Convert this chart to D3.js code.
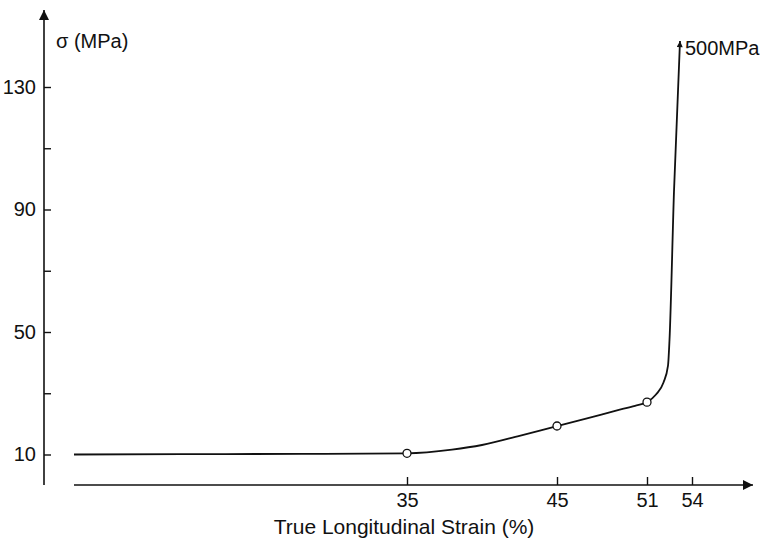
<!DOCTYPE html>
<html>
<head>
<meta charset="utf-8">
<script src="https://cdn.jsdelivr.net/npm/d3@7"></script>
<style>
  body { margin: 0; background: #fff; }
  text { font-family: "Liberation Sans", Arial, sans-serif; fill: #111; }
</style>
</head>
<body>
<div id="chart"></div>
<script>
var width = 765,
    height = 540;

// curve (strain %, stress MPa)
var strainCurve = [12.8, 20, 28, 35, 38, 40, 42.5, 45, 47, 49, 50.2, 51, 51.6, 52.1, 52.4, 52.5, 52.8, 53.2];
var stressCurve = [10, 10.1, 10.2, 10.4, 11.6, 13.1, 16.1, 19.3, 21.8, 24.4, 25.9, 27.1, 29.6, 33.5, 39, 47.4, 96, 145];

// open circle markers
var markerStrain = [35, 45, 51];
var markerStress = [10.4, 19.3, 27.1];

var xTickValues = [35, 45, 51, 54];
var yTickValues = [10, 30, 50, 70, 90, 110, 130];
var yTickLabels = [10, 50, 90, 130];

var svg = d3.select("#chart")
    .append("svg")
    .attr("width", width)
    .attr("height", height);

var x = d3.scaleLinear().domain([35, 54]).range([407, 692]);
var y = d3.scaleLinear().domain([10, 130]).range([454.5, 87]);

var axisY = 485,
    axisX = 44;

var defs = svg.append("defs");
defs.append("marker")
    .attr("id", "bigArrow")
    .attr("viewBox", "0 -5 10 10")
    .attr("refX", 10).attr("refY", 0)
    .attr("markerUnits", "userSpaceOnUse")
    .attr("markerWidth", 19).attr("markerHeight", 10)
    .attr("orient", "auto")
    .append("path")
    .attr("d", "M0,-5L10,0L0,5Z")
    .attr("fill", "#111");

defs.append("marker")
    .attr("id", "smallArrow")
    .attr("viewBox", "0 -5 10 10")
    .attr("refX", 10).attr("refY", 0)
    .attr("markerUnits", "userSpaceOnUse")
    .attr("markerWidth", 14).attr("markerHeight", 6)
    .attr("orient", "auto")
    .append("path")
    .attr("d", "M0,-5L10,0L0,5Z")
    .attr("fill", "#111");

// y axis line with arrow
svg.append("line")
    .attr("x1", axisX).attr("y1", axisY)
    .attr("x2", axisX).attr("y2", 10)
    .attr("stroke", "#111").attr("stroke-width", 1.6)
    .attr("marker-end", "url(#bigArrow)");

// x axis line with arrow
svg.append("line")
    .attr("x1", 74).attr("y1", axisY)
    .attr("x2", 753).attr("y2", axisY)
    .attr("stroke", "#111").attr("stroke-width", 1.6)
    .attr("marker-end", "url(#bigArrow)");

var yAxis = d3.axisLeft(y)
    .tickValues(yTickValues)
    .tickSize(-7)
    .tickPadding(8)
    .tickFormat(d => yTickLabels.indexOf(d) >= 0 ? d : "");

var gy = svg.append("g")
    .attr("transform", `translate(${axisX},0)`)
    .call(yAxis);
gy.select(".domain").remove();
gy.selectAll("line").attr("stroke", "#111").attr("stroke-width", 1.4);
gy.selectAll("text").style("font-size", "20px").attr("fill", "#111");

var xAxis = d3.axisBottom(x)
    .tickValues(xTickValues)
    .tickSize(-8)
    .tickPadding(8)
    .tickFormat(d3.format("d"));

var gx = svg.append("g")
    .attr("transform", `translate(0,${axisY})`)
    .call(xAxis);
gx.select(".domain").remove();
gx.selectAll("line").attr("stroke", "#111").attr("stroke-width", 1.4);
gx.selectAll("text").style("font-size", "20px").attr("fill", "#111");

// curve
var line = d3.line()
    .x((d, i) => x(strainCurve[i]))
    .y((d, i) => y(stressCurve[i]))
    .curve(d3.curveMonotoneX);

svg.append("path")
    .datum(strainCurve)
    .attr("d", line)
    .attr("fill", "none")
    .attr("stroke", "#111")
    .attr("stroke-width", 1.8)
    .attr("marker-end", "url(#smallArrow)");

svg.selectAll("circle.pt")
    .data(markerStrain)
    .enter()
    .append("circle")
    .attr("class", "pt")
    .attr("cx", d => x(d))
    .attr("cy", (d, i) => y(markerStress[i]))
    .attr("r", 4)
    .attr("fill", "#fff")
    .attr("stroke", "#111")
    .attr("stroke-width", 1.3);

// labels
svg.append("text")
    .attr("x", 56).attr("y", 48)
    .style("font-size", "20px")
    .text("σ (MPa)");

svg.append("text")
    .attr("x", 685).attr("y", 55)
    .style("font-size", "20px")
    .text("500MPa");

svg.append("text")
    .attr("x", 404).attr("y", 534)
    .attr("text-anchor", "middle")
    .style("font-size", "21px")
    .text("True Longitudinal Strain (%)");
</script>
</body>
</html>
